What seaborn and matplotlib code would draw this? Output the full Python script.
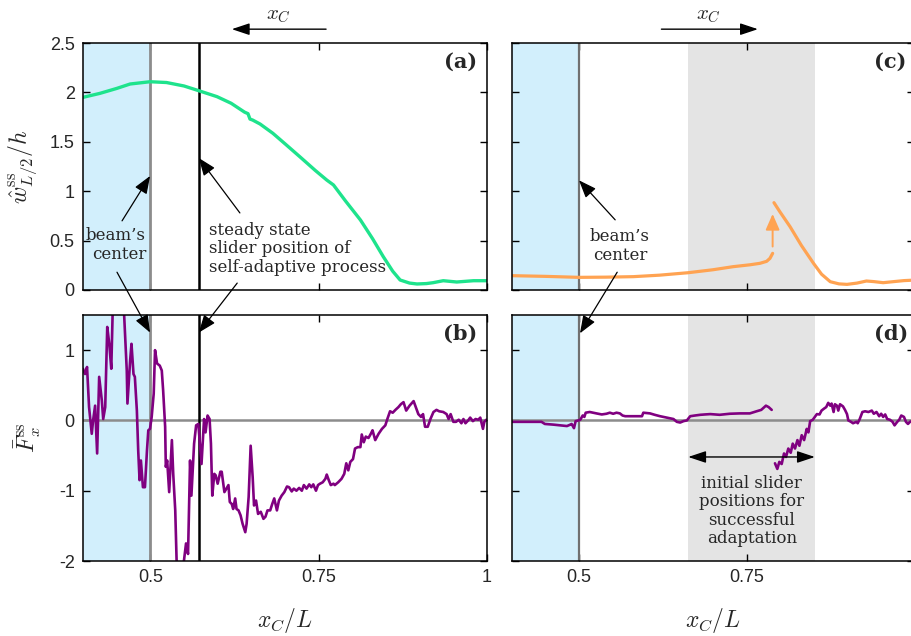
import numpy as np
import pandas as pd
import matplotlib
matplotlib.use("Agg")
import matplotlib.pyplot as plt
import seaborn as sns

# ---------------- data ----------------
# (a) steady-state amplitude, self-adaptive process
a_x = [0.400, 0.425, 0.450, 0.470, 0.4996, 0.524, 0.550, 0.572, 0.599, 0.620, 0.640,
       0.645, 0.648, 0.652, 0.663, 0.682, 0.700, 0.722, 0.745, 0.762, 0.772, 0.790,
       0.812, 0.830, 0.846, 0.860, 0.871, 0.885, 0.896, 0.910, 0.920, 0.935, 0.955,
       0.980, 1.000]
a_y = [1.95, 1.99, 2.04, 2.085, 2.108, 2.10, 2.065, 2.017, 1.957, 1.89, 1.80,
       1.785, 1.73, 1.72, 1.68, 1.586, 1.48, 1.349, 1.21, 1.113, 1.063, 0.90,
       0.709, 0.52, 0.337, 0.19, 0.101, 0.07, 0.061, 0.065, 0.074, 0.094, 0.081,
       0.094, 0.094]

# (b) steady-state mean force
b_x = [0.400, 0.403, 0.406, 0.409, 0.413, 0.415, 0.418, 0.421, 0.424, 0.428, 0.430,
       0.433, 0.436, 0.439, 0.442, 0.444, 0.452, 0.461, 0.465, 0.466, 0.470, 0.472,
       0.475, 0.477, 0.480, 0.482, 0.484, 0.486, 0.489, 0.492, 0.495, 0.497, 0.4995,
       0.502, 0.505, 0.507, 0.510, 0.514, 0.517, 0.519, 0.522, 0.523, 0.525, 0.528,
       0.532, 0.534, 0.537, 0.539, 0.544, 0.550, 0.553, 0.556, 0.559, 0.561, 0.565,
       0.568, 0.5713, 0.576, 0.5798, 0.582, 0.585, 0.588, 0.590, 0.592, 0.595, 0.597,
       0.600, 0.604, 0.606, 0.610, 0.613, 0.616, 0.618, 0.621, 0.623, 0.626, 0.628,
       0.631, 0.634, 0.637, 0.641, 0.643, 0.646, 0.649, 0.652, 0.654, 0.657, 0.660,
       0.664, 0.668, 0.671, 0.674, 0.678, 0.681, 0.684, 0.688, 0.691, 0.695, 0.699,
       0.703, 0.706, 0.710, 0.713, 0.717, 0.721, 0.725, 0.728, 0.732, 0.736, 0.739,
       0.742, 0.746, 0.749, 0.752, 0.756, 0.760, 0.762, 0.765, 0.768, 0.772, 0.774,
       0.779, 0.784, 0.788, 0.791, 0.794, 0.797, 0.801, 0.804, 0.808, 0.812, 0.814,
       0.817, 0.820, 0.824, 0.828, 0.830, 0.834, 0.839, 0.844, 0.849, 0.852, 0.856,
       0.860, 0.864, 0.8685, 0.872, 0.876, 0.880, 0.885, 0.891, 0.895, 0.898, 0.902,
       0.905, 0.908, 0.912, 0.916, 0.9205, 0.925, 0.929, 0.935, 0.940, 0.943, 0.946,
       0.950, 0.954, 0.958, 0.962, 0.965, 0.968, 0.972, 0.975, 0.979, 0.983, 0.987,
       0.990, 0.994, 0.996, 0.999]
b_y = [0.735, 0.66, 0.76, 0.19, -0.19, 0.00, 0.21, -0.47, 0.62, 0.28, 0.02,
       0.19, 1.33, 1.09, 0.735, 1.52, 2.00, 1.52, 0.71, 0.24, 0.85, 1.09,
       0.66, 0.62, 0.14, -0.43, -0.85, -0.57, -0.95, -0.95, -0.43, -0.14, -0.12,
       0.05, 0.38, 1.00, 0.81, 0.78, 0.71, 0.43, -0.09, -0.66, -0.57, -1.02,
       -0.28, -0.76, -1.28, -1.99, -2.20, -1.99, -1.75, -1.90, -0.57, -1.07, -0.33,
       -0.07, -0.05, -0.62, 0.02, -0.17, 0.07, 0.02, -0.33, -1.07, -0.76, -0.78,
       -0.90, -0.73, -0.73, -1.02, -0.97, -0.92, -1.16, -1.19, -1.26, -1.11, -1.26,
       -1.28, -1.35, -1.47, -1.59, -1.47, -1.09, -0.36, -0.81, -1.21, -1.14, -1.33,
       -1.30, -1.40, -1.37, -1.28, -1.28, -1.19, -1.11, -1.28, -1.14, -1.07, -1.02,
       -0.94, -0.95, -1.01, -0.97, -1.00, -0.96, -1.00, -0.92, -0.97, -0.91, -0.95,
       -0.91, -1.00, -0.92, -0.90, -0.88, -0.83, -0.77, -0.85, -0.92, -0.90, -0.92,
       -0.88, -0.83, -0.76, -0.61, -0.71, -0.59, -0.55, -0.40, -0.38, -0.38, -0.20,
       -0.31, -0.23, -0.25, -0.18, -0.14, -0.28, -0.19, -0.12, -0.07, 0.02, 0.13,
       0.11, 0.15, 0.19, 0.23, 0.26, 0.14, 0.21, 0.275, 0.17, 0.09, 0.05,
       0.09, -0.09, -0.09, 0.02, 0.12, 0.15, 0.13, 0.12, 0.09, 0.02, 0.09,
       -0.02, -0.02, 0.01, -0.04, 0.02, -0.04, 0.00, 0.04, -0.01, 0.02, 0.01,
       0.04, -0.12, -0.02, 0.01]

# (c) amplitude, fixed slider -- two branches
c1_x = [0.400, 0.450, 0.500, 0.540, 0.581, 0.620, 0.663, 0.700, 0.730, 0.755, 0.770,
        0.780, 0.785, 0.789]
c1_y = [0.145, 0.138, 0.128, 0.130, 0.135, 0.150, 0.175, 0.205, 0.236, 0.255, 0.270,
        0.290, 0.320, 0.371]
c2_x = [0.791, 0.800, 0.815, 0.832, 0.850, 0.862, 0.875, 0.888, 0.900, 0.915, 0.929,
        0.940, 0.954, 0.970, 0.985, 1.000]
c2_y = [0.884, 0.790, 0.641, 0.450, 0.270, 0.160, 0.084, 0.062, 0.057, 0.070, 0.091,
        0.085, 0.074, 0.085, 0.095, 0.100]

# (d) mean force, fixed slider -- two branches
d1_x = [0.400, 0.422, 0.444, 0.449, 0.462, 0.472, 0.482, 0.487, 0.489, 0.4925, 0.495,
        0.499, 0.502, 0.5055, 0.508, 0.510, 0.516, 0.526, 0.534, 0.541, 0.546, 0.551,
        0.556, 0.561, 0.565, 0.569, 0.581, 0.594, 0.596, 0.606, 0.613, 0.621, 0.631,
        0.641, 0.646, 0.651, 0.656, 0.661, 0.666, 0.673, 0.681, 0.688, 0.696, 0.710,
        0.725, 0.740, 0.755, 0.765, 0.772, 0.779, 0.783, 0.7876]
d1_y = [-0.02, -0.02, -0.02, -0.05, -0.06, -0.07, -0.08, -0.06, -0.05, -0.11, -0.01,
        0.00, 0.01, 0.07, 0.05, 0.11, 0.12, 0.10, 0.085, 0.095, 0.11, 0.095,
        0.11, 0.10, 0.07, 0.06, 0.06, 0.06, 0.11, 0.10, 0.08, 0.06, 0.04,
        0.02, -0.02, -0.03, -0.01, 0.00, 0.06, 0.07, 0.08, 0.085, 0.09, 0.08,
        0.095, 0.10, 0.10, 0.13, 0.15, 0.21, 0.19, 0.15]
d2_x = [0.7925, 0.796, 0.799, 0.8025, 0.806, 0.809, 0.8124, 0.816, 0.819, 0.8224, 0.826,
        0.829, 0.8324, 0.836, 0.8399, 0.8424, 0.845, 0.849, 0.852, 0.855, 0.859, 0.862,
        0.866, 0.869, 0.872, 0.875, 0.877, 0.880, 0.882, 0.885, 0.887, 0.8896, 0.894,
        0.897, 0.900, 0.902, 0.906, 0.909, 0.914, 0.916, 0.919, 0.923, 0.927, 0.932,
        0.937, 0.940, 0.944, 0.948, 0.951, 0.954, 0.957, 0.960, 0.964, 0.968, 0.971,
        0.975, 0.978, 0.981, 0.985, 0.988, 0.991, 0.994, 1.000]
d2_y = [-0.61, -0.69, -0.59, -0.62, -0.47, -0.52, -0.40, -0.46, -0.33, -0.40, -0.28,
        -0.36, -0.21, -0.28, -0.12, -0.17, -0.01, 0.01, 0.05, 0.09, 0.085, 0.14,
        0.17, 0.19, 0.25, 0.21, 0.24, 0.12, 0.23, 0.21, 0.14, 0.23, 0.20,
        0.15, 0.09, 0.00, -0.02, -0.04, -0.02, -0.04, 0.02, 0.12, 0.13, 0.12,
        0.14, 0.095, 0.12, 0.06, 0.095, 0.05, 0.085, 0.02, 0.01, -0.02, -0.07,
        -0.02, 0.01, 0.07, 0.05, -0.02, -0.05, -0.02, 0.00]

beam_center = 0.5
steady_slider = 0.572
success_band = (0.663, 0.852)
x_ticks = [0.5, 0.75, 1.0]
x_ticklabels_left = ["0.5", "0.75", "1"]
x_ticklabels_right = ["0.5", "0.75", ""]
top_yticks = [0, 0.5, 1, 1.5, 2, 2.5]
top_yticklabels = ["0", "0.5", "1", "1.5", "2", "2.5"]
bot_yticks = [-2, -1, 0, 1]
bot_yticklabels = ["-2", "-1", "0", "1"]

# ---------------- style ----------------
sns.set_theme(style="ticks")
plt.rcParams["font.family"] = ["Liberation Sans", "DejaVu Sans"]
plt.rcParams["mathtext.fontset"] = "cm"
plt.rcParams["axes.unicode_minus"] = False

GREEN = "#1ee38c"
ORANGE = "#ffa352"
PURPLE = "#800080"
BLUE_BAND = "#d2effc"
GRAY_BAND = "#e4e4e4"
SERIF = ["DejaVu Serif"]

fig = plt.figure(figsize=(9.11, 6.36), dpi=100)
W, H = 911.0, 636.0
def box(l, t, r, b):
    return [l / W, 1 - b / H, (r - l) / W, (b - t) / H]

ax_a = fig.add_axes(box(83, 43, 487, 290))
ax_b = fig.add_axes(box(83, 315, 487, 561))
ax_c = fig.add_axes(box(512, 43, 914, 290))
ax_d = fig.add_axes(box(512, 315, 914, 561))

def frame(ax, ylim, yticks, yticklabels, xticklabels, show_x, show_y):
    ax.set_xlim(0.4, 1.0)
    ax.set_ylim(*ylim)
    ax.set_xticks(x_ticks)
    ax.set_yticks(yticks)
    ax.set_xticklabels(xticklabels if show_x else [])
    ax.set_yticklabels(yticklabels if show_y else [])
    ax.tick_params(direction="in", top=True, right=True, length=5, width=1,
                   labelsize=13, color="black", pad=6)
    for s in ax.spines.values():
        s.set_linewidth(1.1)
        s.set_color("black")
        s.set_zorder(10)
    ax.set_xlabel("")
    ax.set_ylabel("")
    ax.axvspan(0.4, beam_center, color=BLUE_BAND, lw=0, zorder=0)

# (a)
frame(ax_a, (0, 2.5), top_yticks, top_yticklabels, x_ticklabels_left, False, True)
ax_a.axvline(beam_center, color="#8c8c8c", lw=2, zorder=1)
ax_a.axvline(steady_slider, color="black", lw=1.8, zorder=1)
sns.lineplot(x=a_x, y=a_y, ax=ax_a, color=GREEN, lw=2.4, estimator=None, zorder=3)

# (b)
frame(ax_b, (-2, 1.5), bot_yticks, bot_yticklabels, x_ticklabels_left, True, True)
ax_b.axhline(0, color="#8c8c8c", lw=1.8, zorder=1)
ax_b.axvline(beam_center, color="#8c8c8c", lw=2, zorder=1)
ax_b.axvline(steady_slider, color="black", lw=1.8, zorder=1)
sns.lineplot(x=b_x, y=b_y, ax=ax_b, color=PURPLE, lw=1.9, estimator=None, zorder=3)

# (c)
frame(ax_c, (0, 2.5), top_yticks, top_yticklabels, x_ticklabels_right, False, False)
ax_c.axvspan(*success_band, color=GRAY_BAND, lw=0, zorder=0)
ax_c.axvline(beam_center, color="#707070", lw=1.6, zorder=1)
sns.lineplot(x=c1_x, y=c1_y, ax=ax_c, color=ORANGE, lw=2.3, estimator=None, zorder=3)
sns.lineplot(x=c2_x, y=c2_y, ax=ax_c, color=ORANGE, lw=2.3, estimator=None, zorder=3)
ax_c.annotate("", xy=(0.789, 0.77), xytext=(0.789, 0.44),
              arrowprops=dict(arrowstyle="-|>,head_length=0.8,head_width=0.35",
                              color=ORANGE, lw=1.4, shrinkA=0, shrinkB=0))

# (d)
frame(ax_d, (-2, 1.5), bot_yticks, bot_yticklabels, x_ticklabels_right, True, False)
ax_d.axvspan(*success_band, color=GRAY_BAND, lw=0, zorder=0)
ax_d.axhline(0, color="#8c8c8c", lw=1.8, zorder=1)
ax_d.axvline(beam_center, color="#707070", lw=1.6, zorder=1)
sns.lineplot(x=d1_x, y=d1_y, ax=ax_d, color=PURPLE, lw=1.9, estimator=None, zorder=3)
sns.lineplot(x=d2_x, y=d2_y, ax=ax_d, color=PURPLE, lw=1.9, estimator=None, zorder=3)
ax_d.annotate("", xy=(success_band[0], -0.52), xytext=(success_band[1], -0.52),
              arrowprops=dict(arrowstyle="<|-|>,head_length=0.9,head_width=0.3",
                              color="black", lw=1.0, shrinkA=0, shrinkB=0), zorder=4)
ax_d.text(0.758, -1.29, "initial slider\npositions for\nsuccessful\nadaptation",
          ha="center", va="center", family=SERIF, fontsize=12, linespacing=1.12,
          zorder=5)

# panel labels
for ax, lab, xf in [(ax_a, "(a)", 0.975), (ax_b, "(b)", 0.975),
                    (ax_c, "(c)", 0.98), (ax_d, "(d)", 0.985)]:
    ax.text(xf, 0.965, lab, transform=ax.transAxes, ha="right", va="top",
            family=SERIF, fontweight="bold", fontsize=15, zorder=6)

# axis labels
ax_a.set_ylabel(r"$\hat{w}^{\mathrm{ss}}_{L/2}/h$", fontsize=17)
ax_b.set_ylabel(r"$\bar{F}^{\mathrm{ss}}_{x}$", fontsize=17)
ax_b.set_xlabel(r"$x_C/L$", fontsize=17, labelpad=14)
ax_d.set_xlabel(r"$x_C/L$", fontsize=17, labelpad=14)
ax_a.yaxis.set_label_coords(-0.108, 0.5)
ax_b.yaxis.set_label_coords(-0.1, 0.5)

# direction arrows above panels
ax_a.annotate("", xy=(0.621, 2.64), xytext=(0.761, 2.64), xycoords="data",
              annotation_clip=False,
              arrowprops=dict(arrowstyle="-|>,head_length=0.9,head_width=0.3",
                              color="black", lw=1.0, shrinkA=0, shrinkB=0))
ax_a.text(0.691, 2.78, r"$x_C$", ha="center", va="center", fontsize=15, clip_on=False)
ax_c.annotate("", xy=(0.767, 2.64), xytext=(0.623, 2.64), xycoords="data",
              annotation_clip=False,
              arrowprops=dict(arrowstyle="-|>,head_length=0.9,head_width=0.3",
                              color="black", lw=1.0, shrinkA=0, shrinkB=0))
ax_c.text(0.694, 2.78, r"$x_C$", ha="center", va="center", fontsize=15, clip_on=False)

# annotations
arw = dict(arrowstyle="-|>,head_length=0.9,head_width=0.35", color="black", lw=0.9,
           shrinkA=0, shrinkB=0)
ax_a.text(0.4936, 0.46, "beam’s\ncenter", ha="right", va="center", family=SERIF,
          fontsize=12, linespacing=1.15, multialignment="right", zorder=5)
ax_a.annotate("", xy=(0.4996, 1.154), xytext=(0.458, 0.70), arrowprops=arw)
ax_b.annotate("", xy=(0.4996, 1.25), xytext=(0.4505, 0.18),
              textcoords=ax_a.transData, arrowprops=arw, annotation_clip=False)
ax_a.text(0.5872, 0.415, "steady state\nslider position of\nself-adaptive process",
          ha="left", va="center", family=SERIF, fontsize=12, linespacing=1.15,
          zorder=5)
ax_a.annotate("", xy=(0.572, 1.336), xytext=(0.633, 0.78), arrowprops=arw)
ax_b.annotate("", xy=(0.572, 1.25), xytext=(0.629, 0.07),
              textcoords=ax_a.transData, arrowprops=arw, annotation_clip=False)

ax_c.text(0.561, 0.445, "beam’s\ncenter", ha="center", va="center", family=SERIF,
          fontsize=12, linespacing=1.15, zorder=5)
ax_c.annotate("", xy=(0.5, 1.11), xytext=(0.554, 0.71), arrowprops=arw)
ax_d.annotate("", xy=(0.5015, 1.24), xytext=(0.557, 0.18),
              textcoords=ax_c.transData, arrowprops=arw, annotation_clip=False)

fig.savefig("out.png", dpi=100)
